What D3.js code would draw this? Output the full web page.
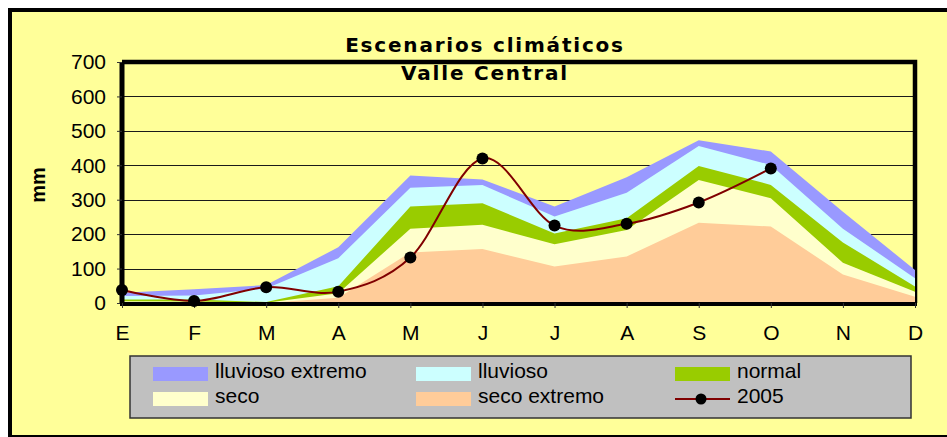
<!DOCTYPE html>
<html>
<head>
<meta charset="utf-8">
<script src="https://cdn.jsdelivr.net/npm/d3@7"></script>
<style>
	body { margin: 0; background: #fff; }
	svg { display: block; }
</style>
</head>
<body>
<script>

var months = ['E', 'F', 'M', 'A', 'M', 'J', 'J', 'A', 'S', 'O', 'N', 'D'];
var yTicks = [0, 100, 200, 300, 400, 500, 600, 700];

var lluviosoExtremo = [30, 40, 52, 162, 370, 359, 280, 365, 473, 440, 265, 96];
var lluvioso        = [20, 22, 42, 130, 335, 343, 251, 320, 456, 401, 216, 72];
var normal          = [10, 10, 3, 49, 280, 290, 202, 246, 398, 343, 176, 48];
var seco            = [5, 4, 1, 28, 216, 227, 171, 212, 357, 304, 117, 33];
var secoExtremo     = [2, 2, 0, 15, 147, 157, 106, 135, 233, 222, 83, 18];
var year2005        = [38, 6, 46, 33, 132, 420, 225, 230, 292, 391, null, null];

var seriesNames = ['lluvioso extremo', 'lluvioso', 'normal', 'seco', 'seco extremo'];
var seriesColors = ['#9999ff', '#ccffff', '#99cc00', '#ffffcc', '#ffcc99'];

(function() {

	var width = 947;
	var height = 437;
	var left = 122, right = 915, top = 62, bottom = 303;
	var font = '"Liberation Sans", Arial, sans-serif';

	var svg = d3.select('body')
		.append('svg')
			.attr('width', width)
			.attr('height', height);

	// chart background and outer frame
	svg.append('rect')
		.attr('x', 10)
		.attr('y', 10)
		.attr('width', 980)
		.attr('height', 427)
		.style('fill', '#ffff99')
		.style('stroke', '#000')
		.style('stroke-width', 4);

	var x = d3.scalePoint()
		.domain(d3.range(months.length))
		.range([left, right]);

	var y = d3.scaleLinear()
		.domain([0, 700])
		.range([bottom, top]);

	// grid lines
	svg.append('g')
		.selectAll('line')
		.data(yTicks.slice(1, -1))
		.enter()
		.append('line')
			.attr('x1', left)
			.attr('x2', right)
			.attr('y1', function(d) { return Math.round(y(d)) + 0.5; })
			.attr('y2', function(d) { return Math.round(y(d)) + 0.5; })
			.style('stroke', '#1a1a1a')
			.style('stroke-width', 1);

	// top and right border of the plot
	svg.append('path')
		.attr('d', 'M' + left + ',' + top + 'H' + right + 'V' + bottom)
		.style('fill', 'none')
		.style('stroke', '#000')
		.style('stroke-width', 4.5);

	// scenario areas, biggest first
	var seriesValues = [lluviosoExtremo, lluvioso, normal, seco, secoExtremo];

	var area = d3.area()
		.x(function(d, i) { return x(i); })
		.y0(y(0))
		.y1(function(d) { return y(d); });

	svg.append('g')
		.selectAll('path')
		.data(seriesValues)
		.enter()
		.append('path')
			.attr('d', area)
			.style('fill', function(d, i) { return seriesColors[i]; });

	// axes
	var yAxis = svg.append('g')
		.attr('transform', 'translate(' + left + ',0)')
		.call(d3.axisLeft(y).tickValues(yTicks).tickSize(5).tickPadding(11));

	var xAxis = svg.append('g')
		.attr('transform', 'translate(0,' + bottom + ')')
		.call(d3.axisBottom(x).tickSize(5).tickFormat(function(i) { return months[i]; }));

	yAxis.select('.domain')
		.attr('d', 'M0,' + top + 'V' + (bottom + 1))
		.style('stroke-width', 5);
	xAxis.select('.domain')
		.attr('d', 'M' + (left - 2) + ',1H' + (right + 2))
		.style('stroke-width', 4);

	svg.selectAll('.tick line')
		.style('stroke', '#333');
	svg.selectAll('.tick text')
		.style('font-family', font)
		.style('font-size', '21px')
		.style('fill', '#000');
	xAxis.selectAll('.tick text')
		.attr('y', 37)
		.attr('dy', 0);

	// 2005 line
	var line = d3.line()
		.defined(function(d) { return d !== null; })
		.x(function(d, i) { return x(i); })
		.y(function(d) { return y(d); })
		.curve(d3.curveCardinal.tension(0));

	svg.append('path')
		.datum(year2005)
		.attr('d', line)
		.style('fill', 'none')
		.style('stroke', '#800000')
		.style('stroke-width', 2);

	svg.append('g')
		.selectAll('circle')
		.data(year2005.map(function(v, i) { return {v: v, i: i}; }).filter(function(d) { return d.v !== null; }))
		.enter()
		.append('circle')
			.attr('cx', function(d) { return x(d.i); })
			.attr('cy', function(d) { return y(d.v); })
			.attr('r', 6)
			.style('fill', '#000');

	// titles
	var title = svg.append('text')
		.attr('text-anchor', 'middle')
		.style('font-family', '"DejaVu Sans", Verdana, sans-serif')
		.style('font-weight', 'bold')
		.style('font-size', '20px')
		.style('letter-spacing', '1.8px');
	title.append('tspan').attr('x', 485).attr('y', 52).text('Escenarios climáticos');
	title.append('tspan').attr('x', 485).attr('y', 80).text('Valle Central');

	svg.append('text')
		.attr('transform', 'translate(45,185) rotate(-90)')
		.attr('text-anchor', 'middle')
		.style('font-family', font)
		.style('font-weight', 'bold')
		.style('font-size', '20px')
		.text('mm');

	// legend
	svg.append('rect')
		.attr('x', 130)
		.attr('y', 356)
		.attr('width', 781)
		.attr('height', 62)
		.style('fill', '#c0c0c0')
		.style('stroke', '#333')
		.style('stroke-width', 1.5);

	var legendItems = seriesNames.concat(['2005']);
	var colX = [153, 416, 675];
	var rowY = [367, 392];

	var item = svg.append('g')
		.selectAll('g')
		.data(legendItems)
		.enter()
		.append('g')
			.attr('transform', function(d, i) {
				return 'translate(' + colX[i % 3] + ',' + rowY[Math.floor(i / 3)] + ')';
			});

	item.filter(function(d, i) { return i < 5; })
		.append('rect')
			.attr('width', 55)
			.attr('height', 14)
			.style('fill', function(d, i) { return seriesColors[i]; });

	var sym = item.filter(function(d) { return d === '2005'; });
	sym.append('line')
		.attr('x1', 0)
		.attr('x2', 55)
		.attr('y1', 7)
		.attr('y2', 7)
		.style('stroke', '#800000')
		.style('stroke-width', 2);
	sym.append('circle')
		.attr('cx', 26)
		.attr('cy', 7)
		.attr('r', 5.5)
		.style('fill', '#000');

	item.append('text')
		.attr('x', 62)
		.attr('y', 11)
		.style('font-family', font)
		.style('font-size', '21px')
		.text(function(d) { return d; });

})();

</script>
</body>
</html>
